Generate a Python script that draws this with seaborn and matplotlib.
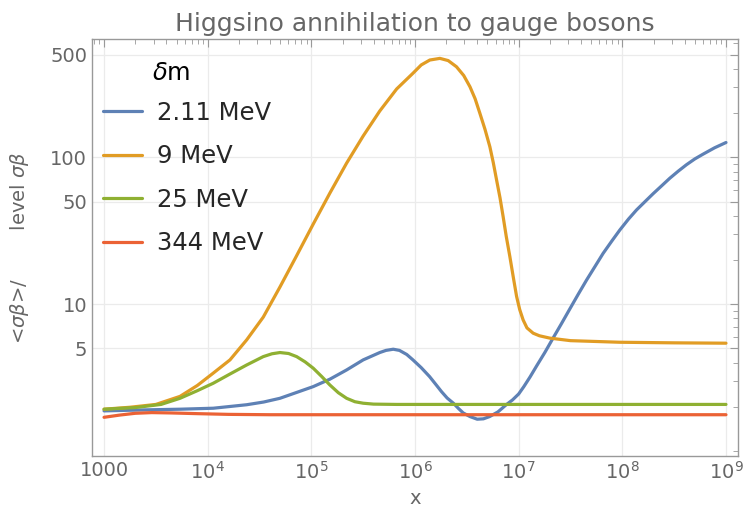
import numpy as np
import pandas as pd
import seaborn as sns
import matplotlib.pyplot as plt
from matplotlib.ticker import FixedLocator, LogLocator, NullFormatter

# legend labels and colours (Mathematica 97 palette)
labels = ["2.11 MeV", "9 MeV", "25 MeV", "344 MeV"]
colors = ["#5E81B5", "#E19C24", "#8FB032", "#EB6235"]

# curves: x given as log10(x)
blue_logx = [3.0, 3.4, 3.733, 4.054, 4.376, 4.54, 4.697, 4.858, 5.018, 5.179, 5.34, 5.5,
             5.66, 5.72, 5.79, 5.85, 5.92, 5.98, 6.06, 6.14, 6.2, 6.256, 6.31, 6.37, 6.42,
             6.465, 6.53, 6.6, 6.66, 6.72, 6.8, 6.88, 6.94, 7.0, 7.05, 7.11, 7.173, 7.253,
             7.333, 7.414, 7.494, 7.575, 7.655, 7.735, 7.815, 7.9, 7.976, 8.06, 8.137,
             8.22, 8.297, 8.38, 8.458, 8.54, 8.619, 8.7, 8.779, 8.89, 9.0]
blue_y = [1.88, 1.91, 1.93, 1.96, 2.07, 2.16, 2.29, 2.51, 2.75, 3.09, 3.57, 4.18,
          4.69, 4.85, 4.94, 4.85, 4.55, 4.18, 3.7, 3.22, 2.85, 2.54, 2.3, 2.12, 1.95,
          1.82, 1.72, 1.65, 1.66, 1.72, 1.85, 2.07, 2.23, 2.45, 2.75, 3.2, 3.8, 4.7,
          5.9, 7.4, 9.3, 11.7, 14.6, 18.0, 22.2, 27.0, 32.0, 38.0, 43.8,
          50.0, 56.5, 64.0, 72.0, 80.5, 89.0, 97.5, 105.0, 116.0, 126.0]

orange_logx = [3.0, 3.25, 3.5, 3.733, 3.9, 4.054, 4.215, 4.376, 4.536, 4.697, 4.858,
               5.018, 5.179, 5.34, 5.5, 5.66, 5.823, 5.98, 6.06, 6.143, 6.24, 6.32, 6.4,
               6.47, 6.53, 6.58, 6.626, 6.675, 6.722, 6.755, 6.787, 6.82, 6.85, 6.88,
               6.915, 6.95, 6.98, 7.01, 7.043, 7.08, 7.14, 7.2, 7.3, 7.5, 7.976, 8.5, 9.0]
orange_y = [1.93, 1.99, 2.08, 2.36, 2.8, 3.4, 4.18, 5.72, 8.17, 13.1, 21.4,
            35.1, 57.1, 91.2, 139.6, 206.5, 291.7, 373.0, 425.0, 459.0, 471.0, 455.0, 413.0,
            360.0, 302.0, 250.0, 199.0, 155.0, 118.0, 92.0, 70.0, 53.0, 39.5, 29.0,
            21.1, 15.0, 11.3, 9.2, 7.82, 6.9, 6.35, 6.1, 5.88, 5.65, 5.51, 5.46, 5.43]

green_logx = [3.0, 3.3, 3.55, 3.733, 3.9, 4.054, 4.215, 4.376, 4.536, 4.62, 4.697, 4.78,
              4.858, 4.94, 5.018, 5.1, 5.179, 5.26, 5.34, 5.42, 5.5, 5.6, 5.823, 7.0, 9.0]
green_y = [1.93, 1.98, 2.08, 2.29, 2.58, 2.9, 3.35, 3.86, 4.4, 4.6, 4.69, 4.62,
           4.4, 4.05, 3.67, 3.22, 2.82, 2.5, 2.29, 2.17, 2.12, 2.09, 2.08, 2.08, 2.08]

red_logx = [3.0, 3.15, 3.3, 3.46, 3.65, 3.9, 4.2, 4.6, 5.5, 7.0, 9.0]
red_y = [1.70, 1.76, 1.81, 1.83, 1.82, 1.80, 1.78, 1.77, 1.77, 1.77, 1.77]

x_ticks = [1e3, 1e4, 1e5, 1e6, 1e7, 1e8, 1e9]
x_tick_labels = ["1000", "$10^{4}$", "$10^{5}$", "$10^{6}$", "$10^{7}$", "$10^{8}$", "$10^{9}$"]
y_ticks = [5, 10, 50, 100, 500]
y_tick_labels = ["5", "10", "50", "100", "500"]

gray = "#666666"


def build_frame():
    frames = []
    for name, lx, y in zip(labels,
                           [blue_logx, orange_logx, green_logx, red_logx],
                           [blue_y, orange_y, green_y, red_y]):
        frames.append(pd.DataFrame({"x": 10 ** np.array(lx), "y": y, "dm": name}))
    return pd.concat(frames, ignore_index=True)


def main():
    sns.set_theme(style="white")
    plt.rcParams["font.family"] = ["DejaVu Sans"]
    plt.rcParams["mathtext.fontset"] = "dejavusans"

    data = build_frame()

    fig, ax = plt.subplots(figsize=(7.5, 5.25), dpi=100)
    fig.subplots_adjust(left=0.1227, right=0.984, top=0.9257, bottom=0.1305)

    sns.lineplot(data=data, x="x", y="y", hue="dm", hue_order=labels, palette=colors,
                 estimator=None, sort=False, linewidth=2.3, ax=ax, legend=False)

    ax.set_xscale("log")
    ax.set_yscale("log")
    ax.set_xlim(10 ** 2.884, 10 ** 9.116)
    ax.set_ylim(0.92, 638)

    ax.xaxis.set_major_locator(FixedLocator(x_ticks))
    ax.set_xticklabels(x_tick_labels)
    ax.xaxis.set_minor_locator(LogLocator(base=10, subs=np.arange(2, 10)))
    ax.xaxis.set_minor_formatter(NullFormatter())
    ax.yaxis.set_major_locator(FixedLocator(y_ticks))
    ax.set_yticklabels(y_tick_labels)
    y_minor = [m * 10 ** e for e in range(0, 3) for m in range(1, 10)
               if m * 10 ** e not in y_ticks and m * 10 ** e < 638]
    ax.yaxis.set_minor_locator(FixedLocator(y_minor))
    ax.yaxis.set_minor_formatter(NullFormatter())

    ax.grid(which="major", color="#EBEBEB", linewidth=0.9)
    ax.grid(which="minor", visible=False)
    ax.tick_params(which="both", direction="in", top=True, right=True,
                   color="#999999", labelcolor=gray, labelsize=14)
    ax.tick_params(which="major", length=6, width=0.8)
    ax.tick_params(which="minor", length=3.5, width=0.6)
    for s in ax.spines.values():
        s.set_color("#999999")
        s.set_linewidth(1.0)

    ax.set_xlabel("x", color=gray, fontsize=14, labelpad=4)
    ax.set_ylabel(r"<$\sigma\beta$>/        level $\sigma\beta$", color=gray, fontsize=14, labelpad=14)
    ax.set_title("Higgsino annihilation to gauge bosons", color=gray, fontsize=18, pad=6)

    handles = [plt.Line2D([], [], color=c, linewidth=2.3) for c in colors]
    ax.legend(handles, labels, loc="upper left", bbox_to_anchor=(103 / 750, 1 - 101 / 525),
              bbox_transform=fig.transFigure, frameon=False, fontsize=17.5,
              handlelength=1.6, handletextpad=0.62, labelspacing=0.8,
              borderpad=0, borderaxespad=0)
    fig.text(152 / 750, 1 - 73 / 525, r"$\delta$m", fontsize=17.5, color="black", va="center")

    plt.savefig("out.png", dpi=100)


if __name__ == "__main__":
    main()
